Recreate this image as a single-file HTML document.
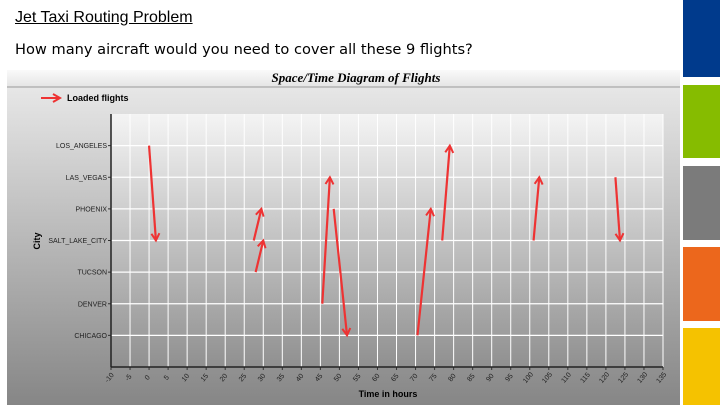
<!DOCTYPE html>
<html><head><meta charset="utf-8"><style>
body{margin:0;width:720px;height:405px;overflow:hidden;background:#fff;position:relative;font-family:"Liberation Sans",sans-serif}
.t1{position:absolute;left:15px;top:9px;font-size:16px;text-decoration:underline;color:#000}
.t2{position:absolute;left:15px;top:41px;font-size:14.6px;font-family:"DejaVu Sans",sans-serif;color:#000}
.bar{position:absolute;left:683px;width:37px}
</style></head><body>
<div class="t1">Jet Taxi Routing Problem</div>
<div class="t2">How many aircraft would you need to cover all these 9 flights?</div>
<div class="bar" style="top:0;height:77px;background:#003a8c"></div>
<div class="bar" style="top:85px;height:73px;background:#86bc00"></div>
<div class="bar" style="top:166px;height:74px;background:#7b7b7b"></div>
<div class="bar" style="top:247px;height:74px;background:#ec671c"></div>
<div class="bar" style="top:328px;height:77px;background:#f5c200"></div>
<svg id="c" width="720" height="405" style="position:absolute;left:0;top:0">
<defs>
<linearGradient id="bg" x1="0" y1="0" x2="0" y2="1"><stop offset="0" stop-color="#ececec"/><stop offset="1" stop-color="#868686"/></linearGradient>
<linearGradient id="pl" x1="0" y1="0" x2="0" y2="1"><stop offset="0" stop-color="#f4f4f4"/><stop offset="1" stop-color="#909090"/></linearGradient>
<linearGradient id="tb" x1="0" y1="0" x2="0" y2="1"><stop offset="0" stop-color="#fafafa"/><stop offset="1" stop-color="#e4e4e4"/></linearGradient>
<marker id="ah" markerWidth="10" markerHeight="10" refX="8" refY="5" orient="auto" markerUnits="userSpaceOnUse"><path d="M1,1 L8,5 L1,9" fill="none" stroke="#ee3333" stroke-width="2"/></marker>
</defs>
<rect x="7" y="70" width="673" height="335" fill="url(#bg)"/>
<rect x="7" y="70" width="673" height="17" fill="url(#tb)"/>
<line x1="7" y1="87" x2="680" y2="87" stroke="#999"/>
<text x="356" y="82" font-family="Liberation Serif" font-weight="bold" font-style="italic" font-size="13" text-anchor="middle">Space/Time Diagram of Flights</text>
<line x1="41" y1="98" x2="60" y2="98" stroke="#ee3333" stroke-width="2" marker-end="url(#ah)"/>
<text x="67" y="101" font-size="9" font-weight="bold">Loaded flights</text>
<rect x="111" y="114" width="552" height="253" fill="url(#pl)"/>
<g id="grid"></g><g id="axes"></g><g id="flights"></g>
<text x="40" y="241" font-size="9" font-weight="bold" text-anchor="middle" transform="rotate(-90 40 241)">City</text>
<text x="388" y="397" font-size="9" font-weight="bold" text-anchor="middle">Time in hours</text>
</svg>
<script>
const cities=["CHICAGO","DENVER","TUCSON","SALT_LAKE_CITY","PHOENIX","LAS_VEGAS","LOS_ANGELES"];
const xTicks=[-10,-5,0,5,10,15,20,25,30,35,40,45,50,55,60,65,70,75,80,85,90,95,100,105,110,115,120,125,130,135];
const depTime=[0,27.5,28,45.5,48.5,70.5,77,101,122.5];
const arrTime=[1.8,29.5,30,47.5,52,74,79,102.5,123.7];
const fromCity=["LOS_ANGELES","SALT_LAKE_CITY","TUCSON","DENVER","PHOENIX","CHICAGO","SALT_LAKE_CITY","SALT_LAKE_CITY","LAS_VEGAS"];
const toCity=["SALT_LAKE_CITY","PHOENIX","SALT_LAKE_CITY","LAS_VEGAS","CHICAGO","PHOENIX","LOS_ANGELES","LAS_VEGAS","SALT_LAKE_CITY"];
const NS="http://www.w3.org/2000/svg";
const X0=111,X1=663,Y0=114,Y1=367;
const xs=t=>X0+(t+10)/145*(X1-X0);
const ys=c=>{const i=cities.indexOf(c);return Y1-(i+1)/8*(Y1-Y0);};
function mk(tag,attrs,parent){const e=document.createElementNS(NS,tag);for(const k in attrs)e.setAttribute(k,attrs[k]);document.getElementById(parent).appendChild(e);return e;}
xTicks.forEach(t=>{
 const g=mk("line",{x1:xs(t),x2:xs(t),y1:Y0,y2:Y1,stroke:"#fff","stroke-width":1},"grid");
 
 
 mk("line",{x1:xs(t),x2:xs(t),y1:Y1,y2:Y1+3,stroke:"#333"},"axes");
 const x=xs(t),y=Y1+12;
 const tx=mk("text",{x:x,y:y,"font-size":7,fill:"#222","text-anchor":"middle",transform:`rotate(-50 ${x} ${y})`},"axes");
 tx.textContent=t;
 
 
});
cities.forEach(c=>{
 const y=ys(c);
 const g=mk("line",{x1:X0,x2:X1,y1:y,y2:y,stroke:"#fff","stroke-width":1.3},"grid");
 
 
 mk("line",{x1:X0-3,x2:X0,y1:y,y2:y,stroke:"#333"},"axes");
 const tx=mk("text",{x:X0-4,y:y+2.5,"font-size":7,fill:"#222","text-anchor":"end"},"axes");
 tx.textContent=c;
 
 
});
mk("line",{x1:X0,x2:X0,y1:Y0,y2:Y1,stroke:"#222","stroke-width":1.5},"axes");
mk("line",{x1:X0,x2:X1,y1:Y1,y2:Y1,stroke:"#222","stroke-width":1.5},"axes");
depTime.forEach((d,i)=>{
 const l=mk("line",{x1:xs(d),y1:ys(fromCity[i]),x2:xs(arrTime[i]),y2:ys(toCity[i]),stroke:"#ee3333","stroke-width":2.2,"marker-end":"url(#ah)"},"flights");
 
 
});
</script>
</body></html>
